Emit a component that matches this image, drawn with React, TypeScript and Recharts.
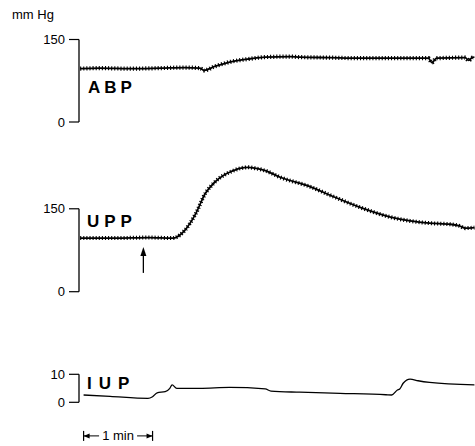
import React from 'react';
import { LineChart, Line, XAxis, YAxis, ReferenceLine } from 'recharts';

// time in seconds from the start of the record
const ABP_T = [0, 17, 43, 70, 91, 104, 108, 117, 130, 148, 161, 183, 191, 217, 243, 278, 303, 306, 310, 335, 338, 341, 343];
const ABP_V = [97, 98, 97, 98, 99, 98, 94, 101, 109, 115, 118, 119, 118, 117, 116, 116, 116, 108, 116, 117, 112, 117, 118];

const UPP_T = [0, 30, 60, 80, 83, 91, 100, 109, 117, 126, 130, 139, 146, 153, 161, 174, 200, 217, 243, 270, 287, 304, 322, 330, 335, 343];
const UPP_V = [97, 97, 98, 97, 98, 111, 139, 178, 198, 212, 216, 223, 225, 223, 219, 207, 190, 175, 153, 135, 128, 124, 122, 119, 115, 116];

const IUP_T = [3, 26, 59, 63, 67, 74, 78, 80, 84, 104, 130, 161, 166, 191, 226, 266, 271, 276, 278, 281, 287, 294, 304, 343];
const IUP_V = [2.6, 2.1, 1.4, 2.0, 3.4, 3.8, 5.0, 6.2, 5.0, 5.0, 5.3, 4.8, 4.0, 3.6, 3.2, 2.7, 2.6, 4.4, 4.75, 6.8, 8.3, 7.7, 7.1, 6.2];

const PRESSURE_TICKS = [0, 150];
const IUP_TICKS = [0, 10];
const STIMULUS_T = 55;
const SCALE_START = 3;
const SCALE_END = 63; // 1 min

const zip = (t: number[], v: number[]) => t.map((x, i) => ({ t: x, v: v[i] }));
const abpData = zip(ABP_T, ABP_V);
const uppData = zip(UPP_T, UPP_V);
const iupData = zip(IUP_T, IUP_V);

const X_DOMAIN: [number, number] = [-1, 343.5];
const FONT = '"Liberation Sans", Arial, sans-serif';
const tickStyle = { fill: '#000', fontSize: 13, fontFamily: FONT };

const ArrowUp = (p: any) => {
  const top = Math.min(p.y1, p.y2);
  const bot = Math.max(p.y1, p.y2);
  const x = p.x1;
  return (
    <g>
      <line x1={x} y1={top + 4} x2={x} y2={bot} stroke="#000" strokeWidth={1.3} />
      <polygon points={`${x},${top} ${x - 3},${top + 9} ${x + 3},${top + 9}`} fill="#000" />
    </g>
  );
};

const ScaleBar = (p: any) => {
  const { x1, x2, y1 } = p;
  const mid = (x1 + x2) / 2;
  return (
    <g>
      <line x1={x1} y1={y1 - 5} x2={x1} y2={y1 + 5} stroke="#000" strokeWidth={1.2} />
      <line x1={x2} y1={y1 - 5} x2={x2} y2={y1 + 5} stroke="#000" strokeWidth={1.2} />
      <line x1={x1} y1={y1} x2={mid - 19} y2={y1} stroke="#000" strokeWidth={1} />
      <polygon points={`${x1},${y1} ${x1 + 6},${y1 - 2.5} ${x1 + 6},${y1 + 2.5}`} fill="#000" />
      <line x1={mid + 19} y1={y1} x2={x2} y2={y1} stroke="#000" strokeWidth={1} />
      <polygon points={`${x2},${y1} ${x2 - 6},${y1 - 2.5} ${x2 - 6},${y1 + 2.5}`} fill="#000" />
      <text x={mid} y={y1 + 4.5} textAnchor="middle" fontSize={13} fontFamily={FONT} fill="#000">1 min</text>
    </g>
  );
};

const Trace = (key: string, width: number, band: number) => {
  const out = [
    <Line key={key + 'a'} type="monotone" dataKey="v" stroke="#000" strokeWidth={width} dot={false} isAnimationActive={false} />,
  ];
  if (band > 0) {
    out.push(
      <Line key={key + 'b'} type="monotone" dataKey="v" stroke="#000" strokeWidth={band} strokeDasharray="1.1 2" dot={false} isAnimationActive={false} />
    );
  }
  return out;
};

export default function App() {
  return (
    <div style={{ position: 'absolute', left: 0, top: 0, width: 475, height: 446, background: '#fff', overflow: 'hidden' }}>
      <div style={{ position: 'absolute', left: 0, top: 0 }}>
        <LineChart width={475} height={140} data={abpData} margin={{ top: 39.5, right: 0, bottom: 18, left: 0 }}>
          <XAxis type="number" dataKey="t" domain={X_DOMAIN} hide />
          <YAxis type="number" domain={[0, 150]} ticks={PRESSURE_TICKS} width={79} axisLine={false} tickSize={10} tickMargin={4} tick={tickStyle} tickLine={{ stroke: '#000', strokeWidth: 1.2 }} />
          <ReferenceLine segment={[{ x: X_DOMAIN[0], y: 0 }, { x: X_DOMAIN[0], y: 150 }]} stroke="#000" strokeWidth={1.3} ifOverflow="visible" />
          {Trace('abp', 1.8, 4.2)}
        </LineChart>
      </div>
      <div style={{ position: 'absolute', left: 0, top: 140 }}>
        <LineChart width={475} height={170} data={uppData} margin={{ top: 13.5, right: 0, bottom: 18.3, left: 0 }}>
          <XAxis type="number" dataKey="t" domain={X_DOMAIN} hide />
          <YAxis type="number" domain={[0, 250]} ticks={PRESSURE_TICKS} width={79} axisLine={false} tickSize={10} tickMargin={4} tick={tickStyle} tickLine={{ stroke: '#000', strokeWidth: 1.2 }} />
          <ReferenceLine segment={[{ x: X_DOMAIN[0], y: 0 }, { x: X_DOMAIN[0], y: 150 }]} stroke="#000" strokeWidth={1.3} ifOverflow="visible" />
          <ReferenceLine segment={[{ x: STIMULUS_T, y: 34 }, { x: STIMULUS_T, y: 81 }]} ifOverflow="visible" shape={ArrowUp} />
          {Trace('upp', 1.8, 4)}
        </LineChart>
      </div>
      <div style={{ position: 'absolute', left: 0, top: 340 }}>
        <LineChart width={475} height={106} data={iupData} margin={{ top: 34.3, right: 0, bottom: 43.7, left: 0 }}>
          <XAxis type="number" dataKey="t" domain={X_DOMAIN} hide />
          <YAxis type="number" domain={[0, 10]} ticks={IUP_TICKS} width={79} axisLine={false} tickSize={10} tickMargin={4} tick={tickStyle} tickLine={{ stroke: '#000', strokeWidth: 1.2 }} />
          <ReferenceLine segment={[{ x: X_DOMAIN[0], y: 0 }, { x: X_DOMAIN[0], y: 10 }]} stroke="#000" strokeWidth={1.3} ifOverflow="visible" />
          <ReferenceLine segment={[{ x: SCALE_START, y: -12 }, { x: SCALE_END, y: -12 }]} ifOverflow="visible" shape={ScaleBar} />
          {Trace('iup', 1.3, 0)}
        </LineChart>
      </div>
      <svg width={475} height={446} style={{ position: 'absolute', left: 0, top: 0, pointerEvents: 'none' }}>
        <text x={12} y={19} fontSize={13} fontFamily={FONT} fill="#000">mm Hg</text>
        <text x={88} y={93} fontSize={17} fontWeight="bold" letterSpacing={4} fontFamily={FONT} fill="#000">ABP</text>
        <text x={87} y={227} fontSize={17} fontWeight="bold" letterSpacing={5} fontFamily={FONT} fill="#000">UPP</text>
        <text x={87} y={389} fontSize={17} fontWeight="bold" letterSpacing={7} fontFamily={FONT} fill="#000">IUP</text>
      </svg>
    </div>
  );
}
